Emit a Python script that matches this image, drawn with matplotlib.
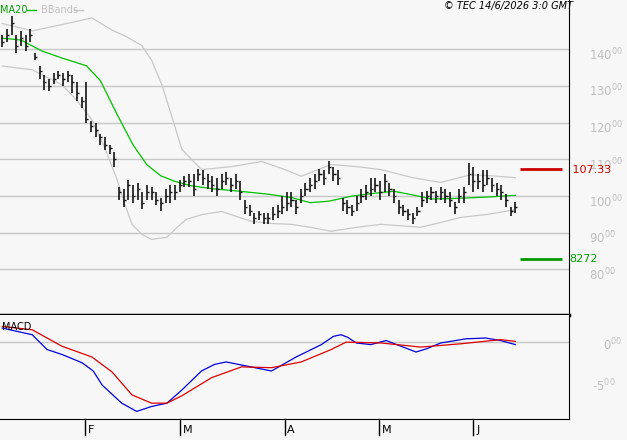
import matplotlib.pyplot as plt
from matplotlib.transforms import blended_transform_factory

# daily closes (price/100 units as on the chart)
close = [142, 144, 147, 141, 143, 141, 144, 138, 134, 131,
         130, 132, 133, 132, 133, 131, 128, 126, 121, 119,
         118, 116, 114, 113, 110, 101, 99, 103, 100, 102,
         98, 101, 101, 99, 98, 100, 101, 101, 103, 104,
         104, 102, 106, 105, 104, 103, 102, 104, 105, 103,
         104, 101, 97, 96, 94, 95, 94, 94, 95, 96,
         97, 98, 99, 97, 100, 102, 103, 104, 106, 105,
         108, 106, 105, 98, 97, 96, 98, 100, 101, 102,
         103, 101, 104, 102, 100, 97, 96, 95, 94, 96,
         99, 100, 101, 100, 101, 100, 99, 97, 100, 101,
         106, 104, 104, 103, 105, 103, 102, 101, 99, 96, 97]
up = [2, 1.5, 2, 3, 2, 3, 1.5, 1, 1.5, 2,
      2, 1.5, 1, 1.5, 1, 2, 3, 1, 10, 1.5,
      2, 1, 2, 1, 2, 1.5, 3, 1.5, 3, 1.5,
      3, 2, 1.5, 2, 1.5, 2, 2, 2, 1.5, 1.5,
      2, 4, 1.5, 2, 2, 2.5, 3, 2, 1.5, 2,
      2, 3, 2, 1.5, 1.5, 1, 1.5, 1.5, 2, 1.5,
      3, 3, 2, 2, 2, 1.5, 2, 2, 1.5, 2,
      1.5, 2, 2, 1.5, 2, 1.5, 2, 2, 2, 3,
      2, 3, 2, 1.5, 2, 2, 1.5, 1.5, 1.5, 1,
      2, 1.5, 1.5, 1.5, 1.5, 2, 2, 1.5, 2, 1.5,
      3, 4, 2, 4, 2, 2, 1.5, 2, 1.5, 1, 1.5]
dn = [1.5, 2, 3, 2, 2, 1.5, 2, 1, 2, 2,
      1.5, 1.5, 1, 2, 2, 3, 2, 2, 1, 1.5,
      2, 2, 1.5, 1.5, 2, 2, 2, 4, 2, 3,
      1.5, 2, 2, 1.5, 2, 2, 3, 2, 2, 1.5,
      1.5, 2, 2, 2, 2, 2, 2, 2, 2, 2,
      2, 2, 2, 1.5, 1.5, 1.5, 1.5, 1.5, 1.5, 2,
      2, 2, 2, 2, 2, 2, 2, 2, 2, 2,
      2, 2, 2, 2, 2, 1.5, 2, 2, 2, 2,
      2, 2, 3, 2, 2, 2, 1.5, 1.5, 1.5, 1.5,
      2, 2, 2, 2, 2, 2, 2, 2, 2, 3,
      3, 3, 2, 2, 2, 2, 2, 2, 2, 1.5, 1.5]

# indicator lines sampled at day positions
ind_x = [0, 4, 8.5, 13, 18, 21, 24.5, 28, 31, 34, 37, 40.5, 45, 51, 57, 62, 66, 70, 75, 80, 84, 88, 92, 96, 100, 105, 110]
ma20 = [143, 142.5, 139.5, 137.5, 135.5, 131.5, 122.5, 114, 108.5, 105.5, 104, 102.8, 102, 101.3, 100.5, 99.6, 98.2, 98.6, 100, 100.8, 101.3, 100.3, 99.2, 99.3, 99.5, 99.8, 100.2]
bb_x = [0, 6.4, 12.8, 19.2, 23.5, 26.5, 29.9, 32, 34.2, 36.5, 38.5, 42.7, 49, 55.6, 60, 64.1, 70.5, 76, 81.2, 88, 94, 100.4, 105, 110]
bb_up = [147, 145, 146.7, 148.5, 145.2, 143.5, 141, 137, 130.3, 121, 112.7, 107.2, 108, 109.4, 107.5, 105.4, 108.6, 108, 107.2, 105, 103.7, 105.8, 105.5, 105]
bb_lo_x = [0, 6.4, 12.8, 16, 19.2, 22, 24.6, 26.2, 27.8, 30, 32, 35.3, 37.5, 39.5, 43, 47, 53.4, 58, 62, 66, 70.5, 76, 81.2, 89.7, 94, 98.3, 104, 110]
bb_lo = [135.4, 134.4, 130.3, 126, 120.8, 113, 104.5, 98, 92.3, 89.5, 88.2, 88.8, 91.5, 93.7, 95, 95.8, 93.1, 92.5, 92.3, 91.5, 90.4, 91.5, 92.3, 91.5, 92.8, 94.2, 95, 96.3]

macd_x = [0, 6.4, 9.6, 12.8, 17.1, 19.5, 21.4, 25.6, 28.8, 32, 35.3, 38.5, 42.7, 45.5, 48, 52.4, 57.7, 63, 68.4, 71, 72.6, 74, 75.9, 79, 82.3, 88.7, 91, 94, 99.4, 103.6, 106.8, 110]
macd = [1.7, 0.9, -0.9, -1.5, -2.5, -3.5, -5.2, -7.4, -8.4, -7.8, -7.4, -5.8, -3.5, -2.7, -2.4, -2.9, -3.5, -1.8, -0.3, 0.7, 0.9, 0.6, -0.1, -0.3, 0.2, -1.2, -0.8, -0.1, 0.4, 0.5, 0.2, -0.3]
sig_x = [0, 6.4, 12.8, 19.2, 23.5, 27.8, 32, 35.3, 38.5, 44.9, 51.3, 57.7, 64.1, 70.5, 73.7, 81.2, 89.7, 98.3, 106.8, 110]
signal = [1.9, 1.5, -0.5, -1.8, -3.6, -6.4, -7.4, -7.4, -6.5, -4.3, -3.0, -3.1, -2.4, -0.9, 0, -0.1, -0.6, -0.2, 0.3, 0.1]

months = ["F", "M", "A", "M", "J"]
month_x = [17.7, 38.2, 60.5, 80.8, 101]
levels = [80, 90, 100, 110, 120, 130, 140]
resist, support = 107.33, 82.72

bg = "#f7f7f7"
fig = plt.figure(figsize=(6.27, 4.4), dpi=100)
fig.patch.set_facecolor(bg)
W, H = 627, 440
ax = fig.add_axes([0, 1 - 315 / H, 569 / W, 315 / H])
mx = fig.add_axes([0, 1 - 419 / H, 569 / W, 104 / H])
xlim = (-0.5, 121.5)

for a in (ax, mx):
    a.set_facecolor(bg)
    a.set_xlim(*xlim)
    a.set_xticks([])
    a.set_yticks([])
    for s in a.spines.values():
        s.set_visible(False)
    a.spines["right"].set_visible(True)
    a.spines["right"].set_color("black")

ax.set_ylim(67.6, 153.4)
ax.spines["bottom"].set_visible(True)
ax.spines["bottom"].set_linewidth(2.5)
ax.spines["bottom"].set_color("black")
for lv in levels:
    ax.axhline(lv, color="#c8c8c8", lw=1, zorder=0)
tr = blended_transform_factory(ax.transAxes, ax.transData)
for lv in levels:
    ax.text(1.035, lv - 1.5, r"$\mathregular{%d^{00}}$" % lv, transform=tr,
            color="#c0c0c0", fontsize=8.5, va="center", ha="left")

ax.plot(bb_x, bb_up, color="#c8c8c8", lw=0.9)
ax.plot(bb_lo_x, bb_lo, color="#c8c8c8", lw=0.9)
ax.plot(ind_x, ma20, color="#00c000", lw=0.9)
for i, c in enumerate(close):
    ax.vlines(i, c - dn[i], c + up[i], color="black", lw=1.1)
    ax.hlines(c, i, i + 0.45, color="black", lw=1)

ax.hlines(resist, 111, 120, color="#cc0000", lw=2)
ax.text(1.0, resist - 0.3, " 107.33", transform=tr, color="#cc0000", fontsize=8, va="center")
ax.hlines(support, 111, 120, color="#009900", lw=2)
ax.text(1.0, support, "8272", transform=tr, color="#009900", fontsize=8, va="center")

ax.text(0.0, 0.985, "MA20", transform=ax.transAxes, color="#00a000", fontsize=7, va="top")
ax.plot([0.047, 0.063], [0.985 - 0.018] * 2, transform=ax.transAxes, color="#00c000", lw=1)
ax.text(0.072, 0.985, "BBands", transform=ax.transAxes, color="#c0c0c0", fontsize=7, va="top")
ax.plot([0.13, 0.145], [0.985 - 0.018] * 2, transform=ax.transAxes, color="#c8c8c8", lw=1)
fig.text(573 / W, 1 - 6 / H, "© TEC 14/6/2026 3:0 GMT", fontsize=7, style="italic",
         ha="right", va="center")

mx.set_ylim(-9.32, 3.29)
mx.spines["bottom"].set_visible(True)
mx.spines["bottom"].set_color("black")
mx.axhline(0, color="#c8c8c8", lw=1, zorder=0)
mtr = blended_transform_factory(mx.transAxes, mx.transData)
mx.text(1.06, -0.3, r"$\mathregular{0^{00}}$", transform=mtr, color="#c0c0c0", fontsize=8.5, va="center")
mx.text(1.04, -5.3, r"$\mathregular{\text{-}5^{00}}$", transform=mtr, color="#c0c0c0", fontsize=8.5, va="center")
mx.plot(macd_x, macd, color="#0000dd", lw=0.9)
mx.plot(sig_x, signal, color="#dd0000", lw=0.9)
mx.text(0.003, 0.93, "MACD", transform=mx.transAxes, fontsize=7, va="top")

for name, xm in zip(months, month_x):
    mx.plot([xm, xm], [0, -0.15], transform=blended_transform_factory(mx.transData, mx.transAxes),
            color="black", lw=1, clip_on=False)
    mx.text(xm + 0.6, -0.06, name, transform=blended_transform_factory(mx.transData, mx.transAxes),
            fontsize=8, va="top", ha="left")

fig.savefig("out.png", dpi=100, facecolor=bg)
